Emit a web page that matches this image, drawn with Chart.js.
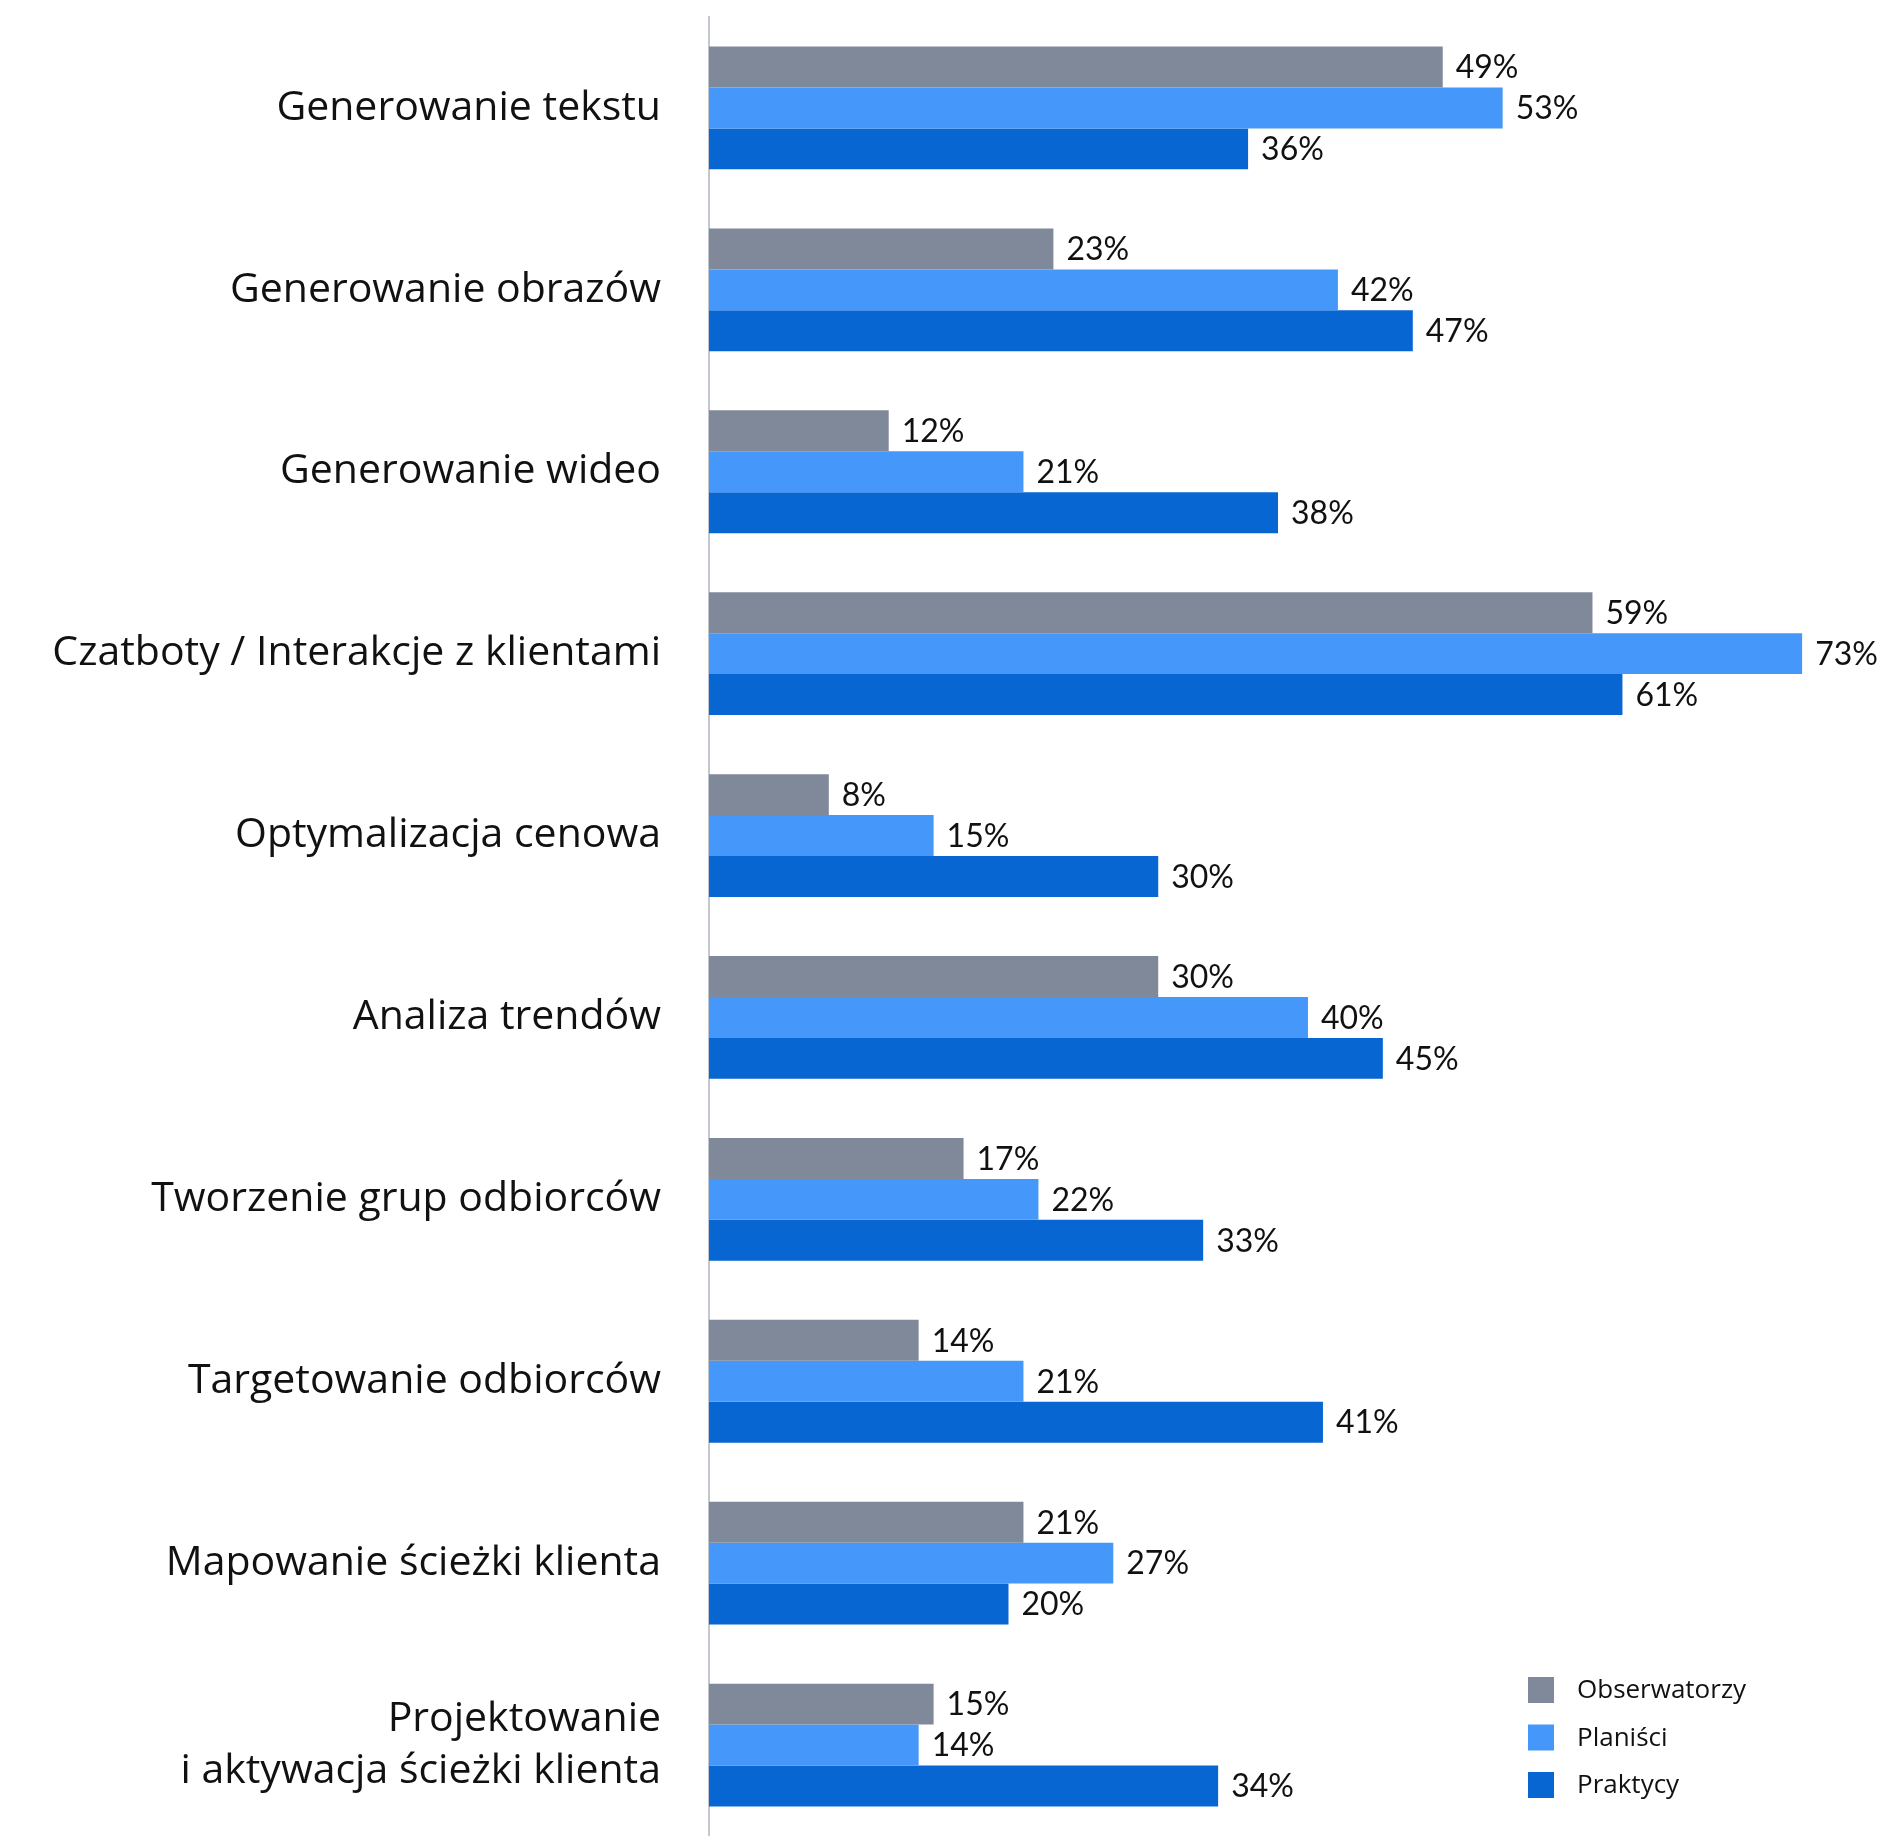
<!DOCTYPE html>
<html>
<head>
<meta charset="utf-8">
<script src="https://cdn.jsdelivr.net/npm/chart.js@4"></script>
<style>
html,body{margin:0;padding:0;background:#fff;}
#wrap{width:1880px;height:1836px;position:relative;}
</style>
</head>
<body>
<div id="wrap"><canvas id="c" width="1880" height="1836"></canvas></div>
<script>
const categories = [
  'Generowanie tekstu',
  'Generowanie obrazów',
  'Generowanie wideo',
  'Czatboty / Interakcje z klientami',
  'Optymalizacja cenowa',
  'Analiza trendów',
  'Tworzenie grup odbiorców',
  'Targetowanie odbiorców',
  'Mapowanie ścieżki klienta',
  ['Projektowanie', 'i aktywacja ścieżki klienta']
];
const seriesNames = ['Obserwatorzy', 'Planiści', 'Praktycy'];
const obserwatorzy = [49, 23, 12, 59, 8, 30, 17, 14, 21, 15];
const planisci     = [53, 42, 21, 73, 15, 40, 22, 21, 27, 14];
const praktycy     = [36, 47, 38, 61, 30, 45, 33, 41, 20, 34];
const colors = ['#808999', '#4697FA', '#0866D3'];

const valueLabels = {
  id: 'valueLabels',
  afterDatasetsDraw(chart) {
    const ctx = chart.ctx;
    ctx.save();
    ctx.font = '32px Lato, "Open Sans", sans-serif';
    ctx.fillStyle = '#111111';
    ctx.textAlign = 'left';
    ctx.textBaseline = 'middle';
    chart.data.datasets.forEach((ds, di) => {
      const meta = chart.getDatasetMeta(di);
      meta.data.forEach((bar, i) => {
        ctx.fillText(ds.data[i] + '%', bar.x + 13, bar.y + 1);
      });
    });
    ctx.restore();
  }
};

const customLegend = {
  id: 'customLegend',
  afterDraw(chart) {
    const ctx = chart.ctx;
    ctx.save();
    ctx.font = '26px "Open Sans", Lato, sans-serif';
    ctx.textAlign = 'left';
    ctx.textBaseline = 'middle';
    chart.data.datasets.forEach((ds, i) => {
      const y = 1677 + i * 47.5;
      ctx.fillStyle = ds.backgroundColor;
      ctx.fillRect(1528, y, 26, 26);
      ctx.fillStyle = '#111111';
      ctx.fillText(ds.label, 1577, y + 14);
    });
    ctx.restore();
  }
};

new Chart(document.getElementById('c'), {
  type: 'bar',
  data: {
    labels: categories,
    datasets: [
      { label: seriesNames[0], data: obserwatorzy, backgroundColor: colors[0] },
      { label: seriesNames[1], data: planisci, backgroundColor: colors[1] },
      { label: seriesNames[2], data: praktycy, backgroundColor: colors[2] }
    ]
  },
  options: {
    indexAxis: 'y',
    responsive: false,
    animation: false,
    maintainAspectRatio: false,
    layout: { padding: { top: 17, right: 3, bottom: 0, left: 0 } },
    datasets: { bar: { categoryPercentage: 0.675, barPercentage: 1.0, borderWidth: 0 } },
    scales: {
      x: { display: false, min: 0, max: 78 },
      y: {
        grid: { display: false },
        border: { display: true, color: '#C3C7D0', width: 2 },
        ticks: {
          padding: 40,
          color: '#111111',
          font: { family: '"Open Sans", Lato, sans-serif', size: 41, lineHeight: 1.27 }
        },
        afterFit(scale) {
          scale.width = 709;
          scale.paddingTop = 0;
          scale.paddingBottom = 0;
        }
      }
    },
    plugins: {
      legend: { display: false },
      tooltip: { enabled: false }
    }
  },
  plugins: [valueLabels, customLegend]
});
</script>
</body>
</html>
